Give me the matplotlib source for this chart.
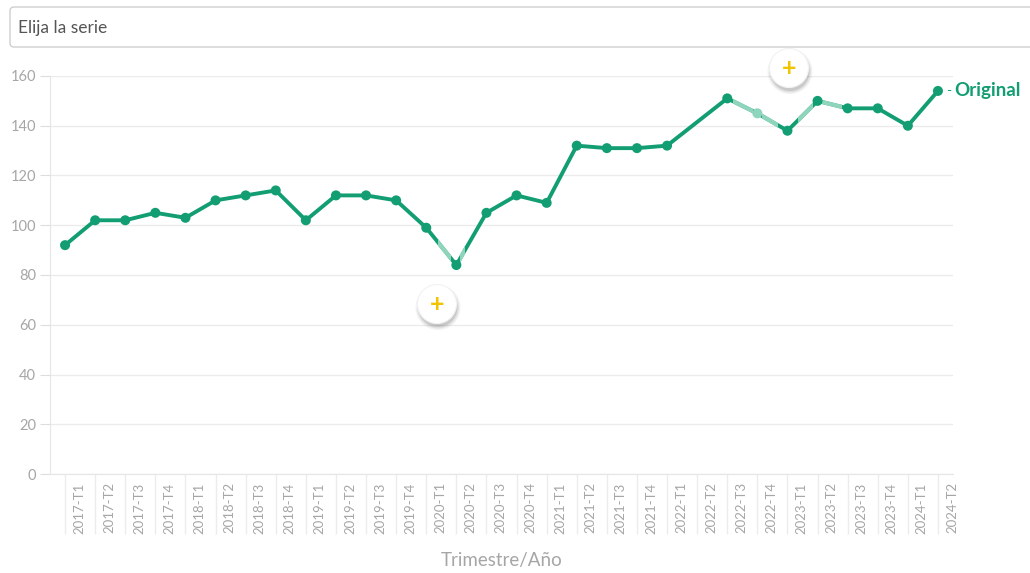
import numpy as np
import matplotlib
matplotlib.use("Agg")
import matplotlib.pyplot as plt
from matplotlib.patches import Circle, FancyBboxPatch, Rectangle
from matplotlib.transforms import ScaledTranslation
from matplotlib.ticker import FixedLocator

plt.rcParams["font.family"] = ["Lato", "DejaVu Sans"]

# data
periods = [
    "2017-T1", "2017-T2", "2017-T3", "2017-T4",
    "2018-T1", "2018-T2", "2018-T3", "2018-T4",
    "2019-T1", "2019-T2", "2019-T3", "2019-T4",
    "2020-T1", "2020-T2", "2020-T3", "2020-T4",
    "2021-T1", "2021-T2", "2021-T3", "2021-T4",
    "2022-T1", "2022-T2", "2022-T3", "2022-T4",
    "2023-T1", "2023-T2", "2023-T3", "2023-T4",
    "2024-T1", "2024-T2",
]
original = [92, 102, 102, 105, 103, 110, 112, 114, 102, 112, 112, 110,
            99, 84, 105, 112, 109, 132, 131, 131, 132, None, 151, 145,
            138, 150, 147, 147, 140, 154]
series_name = "Original"
yticks = [0, 20, 40, 60, 80, 100, 120, 140, 160]

# styles
green = "#129e72"
light_green = "#8fd5bc"
grey_txt = "#a6a6a6"
grid_col = "#ebebeb"
# faded (hover) stretches of the line, in category units
faded_spans = [(12.38, 12.82), (13.12, 13.3), (22.2, 22.85),
               (23.15, 23.7), (24.35, 24.85), (25.15, 25.8)]
faded_points = [23]

fig = plt.figure(figsize=(10.3, 5.73), dpi=100)
ax = fig.add_axes([50 / 1030, 99 / 573, 903 / 1030, 398 / 573])

x = np.arange(len(periods))
y = np.array([np.nan if v is None else v for v in original], dtype=float)
ok = ~np.isnan(y)

ax.plot(x[ok], y[ok], color=green, lw=2.8, zorder=3, solid_capstyle="round")
for x0, x1 in faded_spans:
    ln, = ax.plot(x[ok], y[ok], color=light_green, lw=3.0, zorder=4)
    ln.set_clip_path(Rectangle((x0, -50), x1 - x0, 300, transform=ax.transData))
mcol = [light_green if i in faded_points else green for i in x[ok]]
ax.scatter(x[ok], y[ok], s=52, c=mcol, zorder=5, linewidths=0)

ax.annotate("-", (x[-1], y[-1]), xytext=(6, 0), textcoords="offset points",
            color=green, fontsize=10, va="center", ha="left")
ax.annotate(series_name, (x[-1], y[-1]), xytext=(12, 0), textcoords="offset points",
            color=green, fontsize=13.5, fontweight="bold", va="center", ha="left")

ax.set_xlim(-0.5, len(periods) - 0.5)
ax.set_ylim(0, 160)
ax.set_yticks(yticks)
ax.yaxis.grid(True, color=grid_col, lw=1)
ax.set_axisbelow(True)
ax.tick_params(axis="y", length=7, color="#dddddd", labelcolor=grey_txt,
               labelsize=10.5, pad=3)

ax.set_xticks(x)
ax.set_xticklabels(periods, rotation=90, va="top", ha="center")
ax.tick_params(axis="x", which="major", length=0, labelcolor=grey_txt,
               labelsize=9.5, pad=6)
ax.xaxis.remove_overlapping_locs = False
ax.xaxis.set_minor_locator(FixedLocator(x))
ax.tick_params(axis="x", which="minor", length=43, color="#ececec", width=1)
shift = ScaledTranslation(0.14, 0, fig.dpi_scale_trans)
for lab in ax.get_xticklabels():
    lab.set_transform(lab.get_transform() + shift)

for side in ["top", "right"]:
    ax.spines[side].set_visible(False)
for side in ["left", "bottom"]:
    ax.spines[side].set_color("#e6e6e6")

ax.set_xlabel("Trimestre/Año", color=grey_txt, fontsize=13.5, labelpad=10)

# selector box at the top
box = FancyBboxPatch((0.10, 5.26), 10.5, 0.40, boxstyle="round,pad=0,rounding_size=0.04",
                     transform=fig.dpi_scale_trans, fc="white", ec="#cfcfcf", lw=1)
fig.add_artist(box)
fig.text(0.18, 5.45, "Elija la serie", transform=fig.dpi_scale_trans,
         color="#555555", fontsize=12.5, va="center", ha="left")

# "+" buttons
for cx, cy in [(4.37, 2.69), (7.89, 5.05)]:
    for k, a in enumerate([0.05, 0.07, 0.10]):
        fig.add_artist(Circle((cx + 0.01, cy - 0.035), 0.225 - 0.015 * k,
                              transform=fig.dpi_scale_trans, fc="#000000",
                              alpha=a, lw=0))
    fig.add_artist(Circle((cx, cy), 0.195, transform=fig.dpi_scale_trans,
                          fc="white", ec="#f2f2f2", lw=0.8))
    fig.text(cx, cy, "+", transform=fig.dpi_scale_trans, color="#f0c400",
             fontsize=18, fontweight="bold", ha="center", va="center")

fig.savefig("out.png", dpi=100)
